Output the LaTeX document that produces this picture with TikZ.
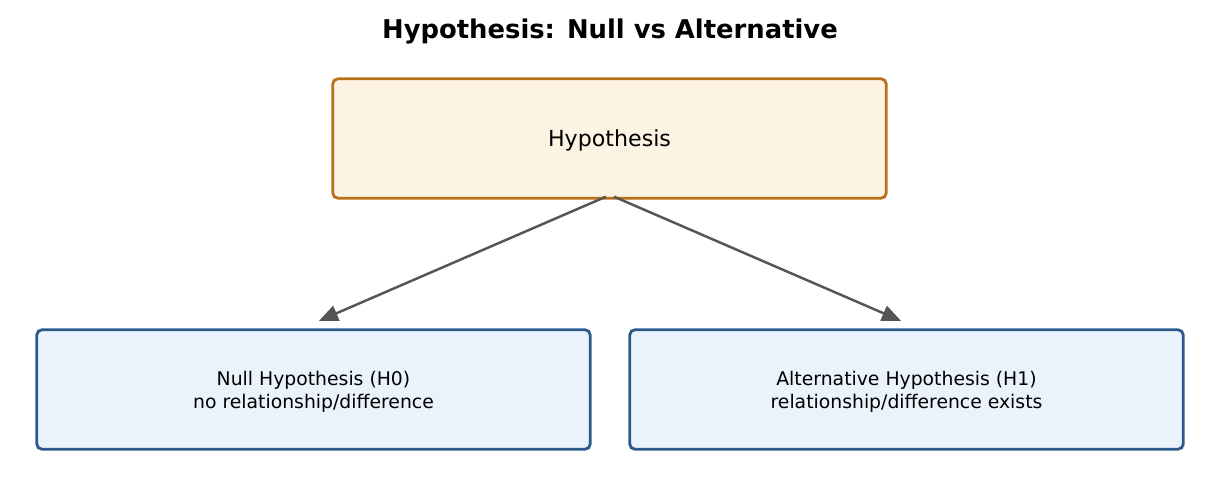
\documentclass[tikz,border=0pt]{standalone}
\usepackage{fontspec}
\setmainfont{DejaVu Sans}
\usetikzlibrary{arrows.meta}

\definecolor{hypFill}{HTML}{FCF3E3}
\definecolor{hypLine}{HTML}{B8701A}
\definecolor{subFill}{HTML}{EAF2FB}
\definecolor{subLine}{HTML}{2C5A8A}
\definecolor{arrowGray}{HTML}{555555}

\newcommand{\lowerline}[1]{\raisebox{-0.04cm}[\height][\depth]{#1}}

\begin{document}
\begin{tikzpicture}[
    hypbox/.style = {draw=hypLine, fill=hypFill, line width=1.6pt, rounded corners=3pt,
                     minimum width=11.07cm, minimum height=2.39cm, align=center},
    subbox/.style = {draw=subLine, fill=subFill, line width=1.6pt, rounded corners=3pt,
                     minimum width=11.07cm, minimum height=2.39cm, align=center,
                     font=\fontsize{10.7}{13}\selectfont},
    link/.style = {draw=arrowGray, line width=1.4pt, -{Triangle[length=0.38cm, width=0.32cm]}}
]
    \def \boxTop {7.15}
    \def \boxBottom {2.13}
    \useasboundingbox (0,0) rectangle (24.38,9.92);
    % Title
    \node (title) at (12.2, 9.30) {\fontsize{14.7}{17}\selectfont\bfseries Hypothesis: Null vs Alternative};
    % Top box
    \node[hypbox, font=\fontsize{12.6}{15}\selectfont] (hyp) at (12.19, \boxTop) {\lowerline{Hypothesis}};
    % Bottom boxes
    \node[subbox] (null) at (6.27, \boxBottom) {\lowerline{Null Hypothesis (H0)}\\\lowerline{no relationship/difference}};
    \node[subbox] (alt) at (18.13, \boxBottom) {\lowerline{Alternative Hypothesis (H1)}\\\lowerline{relationship/difference exists}};
    % Arrow ends
    \coordinate (startL) at ([xshift=-0.07cm, yshift=0.06cm]hyp.south);
    \coordinate (startR) at ([xshift=0.09cm, yshift=0.06cm]hyp.south);
    \coordinate (endL) at ([xshift=0.11cm, yshift=0.15cm]null.north);
    \coordinate (endR) at ([xshift=-0.11cm, yshift=0.15cm]alt.north);
    % Arrows
    \draw[link] (startL) -- (endL);
    \draw[link] (startR) -- (endR);
\end{tikzpicture}
\end{document}
